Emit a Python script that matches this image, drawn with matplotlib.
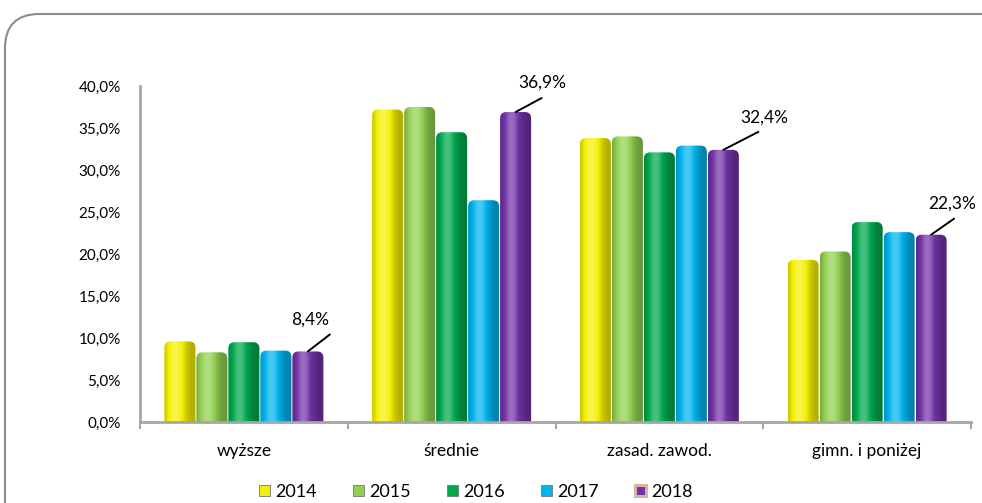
import numpy as np
import matplotlib
matplotlib.use("Agg")
import matplotlib.pyplot as plt
from matplotlib.patches import FancyBboxPatch, Rectangle
from matplotlib.colors import to_rgb

plt.rcParams['font.family'] = ['Lato', 'DejaVu Sans']

categories = ["wyższe", "średnie", "zasad. zawod.", "gimn. i poniżej"]
years = ["2014", "2015", "2016", "2017", "2018"]
values = {
    "2014": [9.6, 37.2, 33.8, 19.3],
    "2015": [8.3, 37.5, 34.0, 20.3],
    "2016": [9.5, 34.5, 32.1, 23.8],
    "2017": [8.5, 26.4, 32.9, 22.6],
    "2018": [8.4, 36.9, 32.4, 22.3],
}
label_year = "2018"
yticks = [0, 5, 10, 15, 20, 25, 30, 35, 40]
colors = ["#F4F000", "#92D050", "#00A84E", "#00B4EE", "#7232A6"]

W, H = 982, 503
fig = plt.figure(figsize=(W / 100, H / 100), dpi=100)
ax = fig.add_axes([140 / W, 1 - 422 / H, (971 - 140) / W, (422 - 86) / H])

n = len(years)
group_w = 0.77
bw = group_w / n
x = np.arange(len(categories))

prof = np.linspace(0, 1, 80)
shade = 0.72 + 0.46 * np.exp(-((prof - 0.36) / 0.30) ** 2)

aspect = (40 / 336) / (len(categories) / 831)

for i, (yr, col) in enumerate(zip(years, colors)):
    bars = ax.bar(x - group_w / 2 + bw * (i + 0.5), values[yr], width=bw * 0.97,
                  color=col, zorder=2)
    base = np.array(to_rgb(col))
    grad = np.empty((1, len(prof), 3))
    for k, s in enumerate(shade):
        if s <= 1:
            grad[0, k] = base * s
        else:
            grad[0, k] = base + (1 - base) * (s - 1) * 1.6
    grad = np.clip(grad, 0, 1)
    for b in bars:
        bx, by, bwid, bh = b.get_x(), b.get_y(), b.get_width(), b.get_height()
        b.set_visible(False)
        clip = FancyBboxPatch((bx, by - 1), bwid, bh + 1,
                              boxstyle="round,pad=0,rounding_size=0.03",
                              mutation_aspect=aspect, transform=ax.transData,
                              facecolor='none', edgecolor='none')
        ax.add_patch(clip)
        im = ax.imshow(grad, extent=(bx, bx + bwid, by, by + bh), aspect='auto',
                       zorder=2, interpolation='bilinear')
        im.set_clip_path(clip)
    if yr == label_year:
        offsets = [(2, 32), (27, 29), (41, 32), (21, 31)]
        line_end = [(22, 17), (26, 14), (35, 18), (23, 16)]
        for b, v, off, le in zip(bars, values[yr], offsets, line_end):
            cx = b.get_x() + b.get_width() * 0.5
            top = b.get_height()
            ax.annotate("", xy=(cx, top), xytext=le, textcoords='offset pixels',
                        arrowprops=dict(arrowstyle='-', color='black', lw=1.4,
                                        shrinkA=0, shrinkB=0), zorder=4)
            ax.annotate(f"{v:.1f}%".replace('.', ','), xy=(cx, top), xytext=off,
                        textcoords='offset pixels', ha='center', va='center',
                        fontsize=12.5, zorder=4)

ax.set_xlim(-0.5, len(categories) - 0.5)
ax.set_ylim(0, 40)
ax.set_yticks(yticks)
ax.set_yticklabels([f"{t:.1f}%".replace('.', ',') for t in yticks], fontsize=11)
ax.set_xticks(np.arange(len(categories) + 1) - 0.5, minor=False)
ax.set_xticklabels([])
ax.set_xticks(x, minor=True)
ax.set_xticklabels(categories, minor=True, fontsize=12.5)
ax.tick_params(axis='x', which='minor', length=0, pad=15)
ax.tick_params(axis='x', which='major', length=5, width=1.5, color='#A6A6A6')
ax.tick_params(axis='y', length=0, pad=14)
for s in ['top', 'right']:
    ax.spines[s].set_visible(False)
for s in ['left', 'bottom']:
    ax.spines[s].set_color('#A6A6A6')
    ax.spines[s].set_linewidth(2)

# legend
handles = []
for yr, col in zip(years, colors):
    ec = '#D9B49C' if yr == label_year else '#777777'
    handles.append(Rectangle((0, 0), 1, 1, facecolor=col, edgecolor=ec,
                             lw=2.2 if yr == label_year else 0.6))
fig.legend(handles, years, loc='center', bbox_to_anchor=(476 / W, 1 - 492 / H),
           ncol=5, frameon=False, fontsize=13, handlelength=0.6, handleheight=0.6,
           handletextpad=0.3, columnspacing=2.0)

# outer rounded frame
frame = FancyBboxPatch((5 / W, -0.2), 1.2, 1 - 14 / H + 0.2,
                       boxstyle="round,pad=0,rounding_size=0.035",
                       mutation_aspect=W / H, transform=fig.transFigure,
                       facecolor='none', edgecolor='#8C8C8C', lw=1.5)
fig.patches.append(frame)

fig.savefig("out.png", dpi=100)
